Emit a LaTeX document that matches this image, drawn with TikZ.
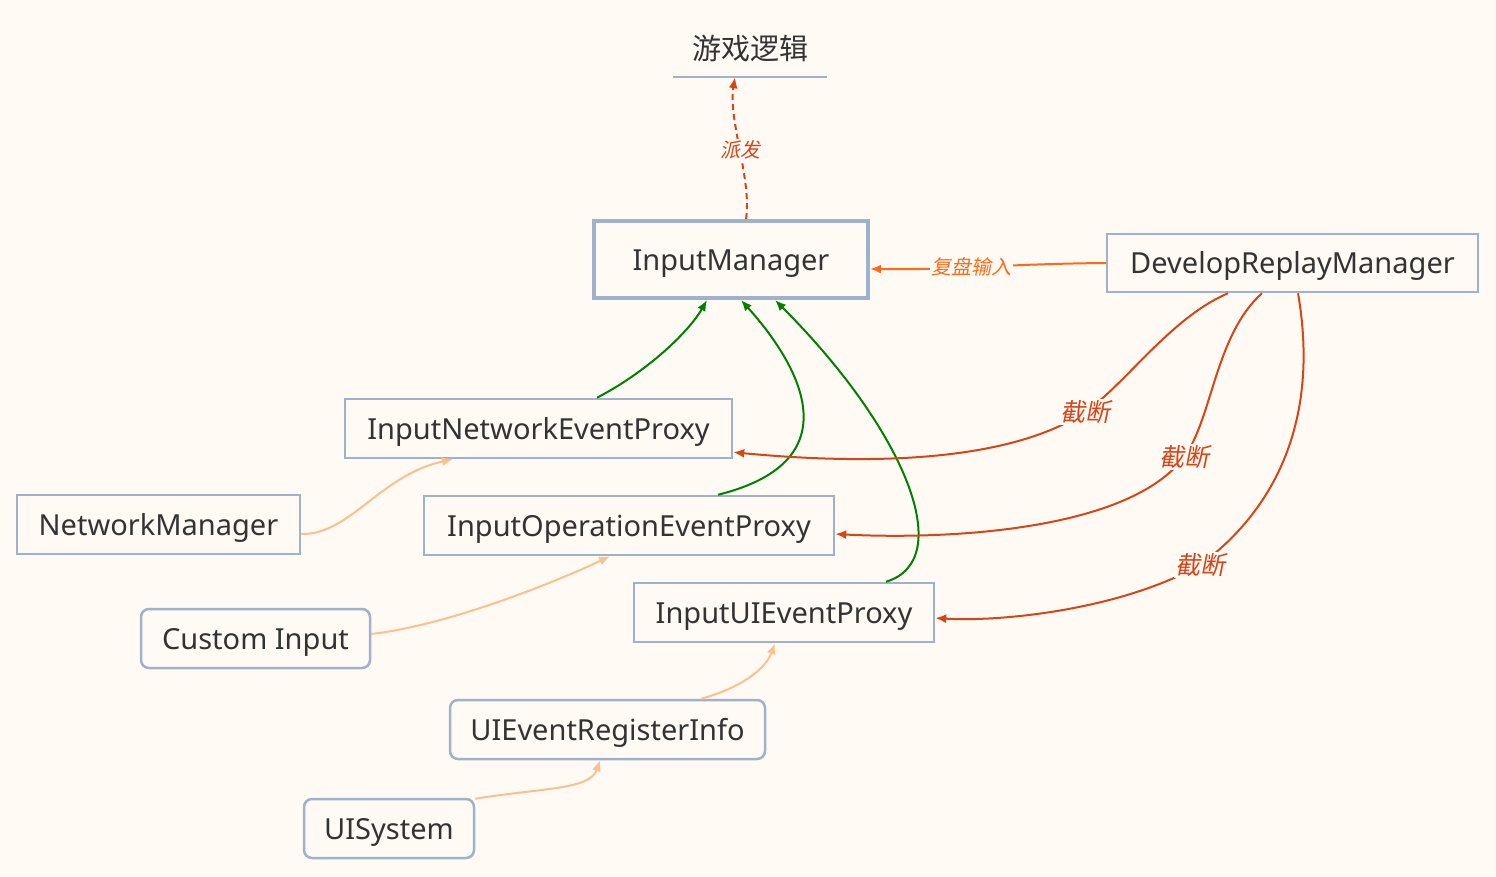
\documentclass[tikz,border=0pt]{standalone}
\usepackage{fontspec}
\setmainfont{Noto Sans}
\newfontfamily\cjk{Noto Sans CJK SC}
\newfontfamily\cjkit[FakeSlant=0.2]{Noto Sans CJK SC}
\usetikzlibrary{arrows.meta,calc}
\definecolor{bg}{RGB}{255,251,244}
\definecolor{boxc}{RGB}{157,179,205}
\definecolor{txt}{RGB}{51,51,51}
\definecolor{flowg}{RGB}{0,128,0}
\definecolor{cutr}{RGB}{217,68,22}
\definecolor{replayo}{RGB}{255,106,20}
\definecolor{feed}{RGB}{253,192,140}

\begin{document}
\begin{tikzpicture}[x=1pt,y=-1pt,
  box/.style={draw=boxc, line width=2.5pt, fill=bg, text=txt, inner sep=0pt,
    minimum height=59pt, text height=21pt, text depth=0pt,
    font=\fontsize{29}{35}\selectfont},
  rbox/.style={box, rounded corners=8pt},
  lbl/.style={fill=bg, inner sep=1.5pt, font=\cjkit\fontsize{20}{24}\selectfont},
  cutlbl/.style={lbl, text=cutr, font=\cjkit\fontsize{25}{30}\selectfont},
  tip/.style={-{Latex[length=11pt,width=9pt]}},
  green/.style={draw=flowg, line width=2pt, tip},
  cut/.style={draw=cutr, line width=2pt, tip},
  feedin/.style={draw=feed, line width=2pt, tip}]
\fill[bg] (0,0) rectangle (1496,876);
\path[use as bounding box] (0,0) rectangle (1496,876);

\node[text=txt, font=\cjk\fontsize{29}{34}\selectfont, minimum width=154pt, minimum height=56pt, inner sep=0pt] (game) at (750,49) {游戏逻辑};
\draw[boxc, line width=2.5pt] (game.south west) -- (game.south east);

\node[box, line width=4pt, minimum width=274pt, minimum height=77pt] (im) at (731,259.5) {InputManager};
\node[box, minimum width=371pt, minimum height=58pt] (drm) at (1292.5,263) {DevelopReplayManager};
\node[box, minimum width=387pt] (inep) at (538.5,428.5) {InputNetworkEventProxy};
\node[box, minimum width=283pt] (nm) at (158.5,524.5) {NetworkManager};
\node[box, minimum width=410pt] (ioep) at (629,525.5) {InputOperationEventProxy};
\node[rbox, minimum width=229pt] (ci) at (255.5,638.5) {Custom Input};
\node[box, minimum width=300pt] (iuep) at (784,612.5) {InputUIEventProxy};
\node[rbox, minimum width=315pt] (ueri) at (607.5,729.5) {UIEventRegisterInfo};
\node[rbox, minimum width=170pt] (uis) at (389,828.5) {UISystem};

% dispatch to game logic
\path[draw=cutr, line width=2pt, dash pattern=on 6pt off 4pt, tip] ($(im.north)+(15,0)$)
  .. controls (752,180) and (728,120) .. node[lbl, text=cutr, pos=0.5] (dispatch) {派发} ($(game.south)+(-15,0)$);

% replay input
\path[draw=replayo, line width=2pt, tip] (drm.west)
  .. controls (1000,264) and (960,270) .. node[lbl, text=replayo, pos=0.55] (replay) {复盘输入} ($(im.east)+(0,9.5)$);

% proxies up to InputManager
\path[green] ($(inep.north)+(58.5,0)$) .. controls (650,370) and (690,330) .. ($(im.south)+(-24,0)$);
\path[green] ($(ioep.north)+(89,0)$) .. controls (858,460) and (795,360) .. ($(im.south)+(10,0)$);
\path[green] ($(iuep.north)+(102,0)$) .. controls (958,560) and (905,430) .. ($(im.south)+(44,0)$);

% cut-offs from DevelopReplayManager
\path[cut] ($(drm.south)+(-64.5,0)$) .. controls (1170,318) and (1125,385) .. (1085,412)
  node[cutlbl] (cut1) {截断}
  .. controls (1020,455) and (900,468) .. ($(inep.south east)+(0,-7)$);
\path[cut] ($(drm.south)+(-30.5,0)$) .. controls (1215,335) and (1212,420) .. (1184,457)
  node[cutlbl] (cut2) {截断}
  .. controls (1130,530) and (950,540) .. ($(ioep.east)+(0,8.5)$);
\path[cut] ($(drm.south)+(5.5,0)$) .. controls (1320,420) and (1275,510) .. (1200,565)
  node[cutlbl] (cut3) {截断}
  .. controls (1120,610) and (1000,622) .. ($(iuep.east)+(0,5.5)$);

% sources feeding the proxies
\path[feedin] ($(nm.east)+(0,9.5)$) .. controls (350,535) and (380,475) .. ($(inep.south)+(-85.5,0)$);
\path[feedin] ($(ci.east)+(0,-4.5)$) .. controls (450,625) and (560,580) .. ($(ioep.south)+(-19,0)$);
\path[feedin] ($(ueri.north)+(93.5,0)$) .. controls (740,688) and (765,670) .. ($(iuep.south)+(-9,0)$);
\path[feedin] ($(uis.north east)+(0,1)$) .. controls (540,788) and (590,790) .. ($(ueri.south)+(-7.5,0)$);
\end{tikzpicture}
\end{document}
